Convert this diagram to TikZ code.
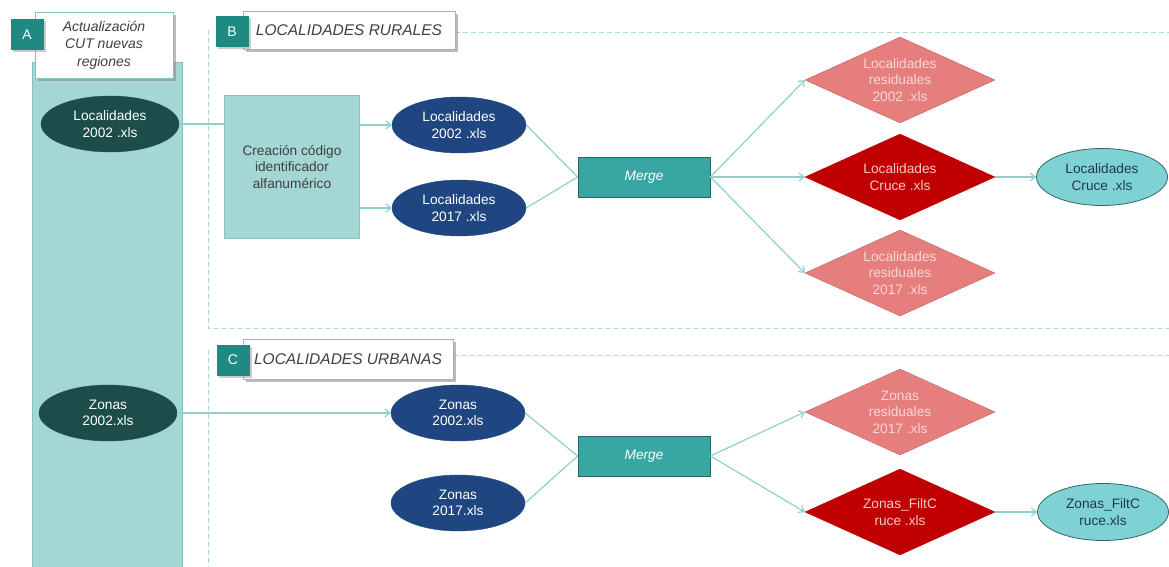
\documentclass[tikz,border=0pt]{standalone}
\usepackage{fontspec}
\setmainfont{Liberation Sans}
\usetikzlibrary{shapes.geometric,arrows.meta,shadows}

\definecolor{tealpale}{HTML}{A3D6D4}
\definecolor{tealpaleedge}{HTML}{86C3C0}
\definecolor{badgeteal}{HTML}{1F8A84}
\definecolor{dkgreen}{HTML}{1C4D4A}
\definecolor{navyfile}{HTML}{1F4680}
\definecolor{mergeteal}{HTML}{38A7A3}
\definecolor{mergeedge}{HTML}{2A6664}
\definecolor{pinkres}{HTML}{E67E7E}
\definecolor{pinkedge}{HTML}{B86262}
\definecolor{pinktext}{HTML}{F9D6D6}
\definecolor{redcross}{HTML}{C00000}
\definecolor{redtext}{HTML}{F6C8C8}
\definecolor{cyanout}{HTML}{7ED2D3}
\definecolor{cyanedge}{HTML}{2E6767}
\definecolor{cyantext}{HTML}{1F3A50}
\definecolor{flowcol}{HTML}{8ED0CB}
\definecolor{dashcol}{HTML}{A9DAD7}

\tikzset{
  filetext/.style={align=center, inner sep=0pt, font=\fontsize{13.7}{16.5}\selectfont},
  srcfile/.style={filetext, ellipse, fill=dkgreen, draw=dkgreen, text=white,
    minimum width=138pt, minimum height=56pt},
  infile/.style={filetext, ellipse, fill=navyfile, draw=navyfile, text=white,
    minimum width=134pt, minimum height=56pt},
  outfile/.style={filetext, ellipse, fill=cyanout, draw=cyanedge, line width=0.8pt,
    text=cyantext, minimum width=131pt, minimum height=57pt},
  residual/.style={filetext, diamond, fill=pinkres, draw=pinkedge, text=pinktext,
    shape aspect=2.2, minimum width=190pt, minimum height=86pt},
  crossed/.style={filetext, diamond, fill=redcross, draw=redcross, text=redtext,
    shape aspect=2.2, minimum width=190pt, minimum height=86pt},
  mergebox/.style={filetext, rectangle, fill=mergeteal, draw=mergeedge, line width=0.8pt,
    text=white, font=\itshape\fontsize{13.7}{16}\selectfont,
    text height=10pt, text depth=3pt,
    minimum width=132pt, minimum height=40pt},
  procbox/.style={filetext, rectangle, fill=tealpale, draw=tealpaleedge,
    text=black!75, font=\fontsize{13.7}{16.5}\selectfont,
    minimum width=135pt, minimum height=143pt},
  titlebox/.style={rectangle, fill=white, draw=tealpaleedge, line width=0.8pt,
    align=center, text=black!75, inner sep=0pt,
    drop shadow={shadow xshift=3pt, shadow yshift=-3pt, fill=black!45, opacity=0.6}},
  badge/.style={rectangle, fill=badgeteal, text=white, inner sep=0pt,
    font=\fontsize{14}{16}\selectfont, minimum width=33pt, minimum height=31pt,
    drop shadow={shadow xshift=2pt, shadow yshift=-2pt, fill=black!40, opacity=0.5}},
  flow/.style={draw=flowcol, line width=1.2pt},
  flowarrow/.style={flow, -{Straight Barb[length=5pt,width=8pt]}},
  sectionline/.style={draw=dashcol, line width=0.9pt, dash pattern=on 5pt off 3pt}
}

\begin{document}
\begin{tikzpicture}[x=1pt, y=-1pt]
    \useasboundingbox (0,0) rectangle (1169,567);

    % section frames
    \draw[sectionline] (208,30) -- (208,328) -- (1169,328);
    \draw[sectionline] (455,32) -- (1169,32);
    \draw[sectionline] (208,350) -- (208,567);
    \draw[sectionline] (453,355) -- (1169,355);

    % column A
    \draw[fill=tealpale, draw=tealpaleedge] (32,62) rectangle (182,570);
    \node[titlebox, minimum width=138pt, minimum height=66pt,
      font=\itshape\fontsize{14}{17.5}\selectfont] (titleA) at (104,45)
      {Actualización\\CUT nuevas\\regiones};
    \node[badge] (badgeA) at (27,35) {A};

    \node[titlebox, minimum width=212pt, minimum height=38pt,
      font=\itshape\fontsize{15.5}{18}\selectfont] (titleB) at (349,30) {LOCALIDADES RURALES};
    \node[badge] (badgeB) at (232,32) {B};

    \node[titlebox, minimum width=210pt, minimum height=40pt,
      font=\itshape\fontsize{15.5}{18}\selectfont] (titleC) at (348,359) {LOCALIDADES URBANAS};
    \node[badge] (badgeC) at (233,360) {C};

    \node[srcfile] (loc02a) at (110,124) {Localidades\\2002 .xls};
    \node[srcfile] (zon02a) at (108,413) {Zonas\\2002.xls};

    % rurales
    \node[procbox] (codigo) at (292,167) {Creación código\\identificador\\alfanumérico};
    \node[infile] (loc02b) at (459,125) {Localidades\\2002 .xls};
    \node[infile] (loc17b) at (459,208) {Localidades\\2017 .xls};
    \node[mergebox] (mergeB) at (644,177) {Merge};
    \node[residual] (res02) at (900,80) {Localidades\\residuales\\2002 .xls};
    \node[crossed] (cruce) at (900,177) {Localidades\\Cruce .xls};
    \node[residual] (res17) at (900,273) {Localidades\\residuales\\2017 .xls};
    \node[outfile] (cruceout) at (1102,177) {Localidades\\Cruce .xls};

    \draw[flow] (loc02a.east) -- (loc02a.east -| codigo.west);
    \draw[flowarrow] (codigo.east |- loc02b) -- (loc02b.west);
    \draw[flowarrow] (codigo.east |- loc17b) -- (loc17b.west);
    \draw[flow] (loc02b.east) -- (mergeB.west);
    \draw[flow] (loc17b.east) -- (mergeB.west);
    \draw[flowarrow] (mergeB.east) -- (res02.west);
    \draw[flowarrow] (mergeB.east) -- (cruce.west);
    \draw[flowarrow] (mergeB.east) -- (res17.west);
    \draw[flowarrow] (cruce.east) -- (cruceout.west);

    % urbanas
    \node[infile] (zon02b) at (458,413) {Zonas\\2002.xls};
    \node[infile] (zon17b) at (458,503) {Zonas\\2017.xls};
    \node[mergebox] (mergeC) at (644,456) {Merge};
    \node[residual] (zres17) at (900,412) {Zonas\\residuales\\2017 .xls};
    \node[crossed] (zfilt) at (900,512) {Zonas\_FiltC\\ruce .xls};
    \node[outfile] (zfiltout) at (1103,512) {Zonas\_FiltC\\ruce.xls};

    \draw[flowarrow] (zon02a.east) -- (zon02b.west);
    \draw[flow] (zon02b.east) -- (mergeC.west);
    \draw[flow] (zon17b.east) -- (mergeC.west);
    \draw[flowarrow] (mergeC.east) -- (zres17.west);
    \draw[flowarrow] (mergeC.east) -- (zfilt.west);
    \draw[flowarrow] (zfilt.east) -- (zfiltout.west);
\end{tikzpicture}
\end{document}
